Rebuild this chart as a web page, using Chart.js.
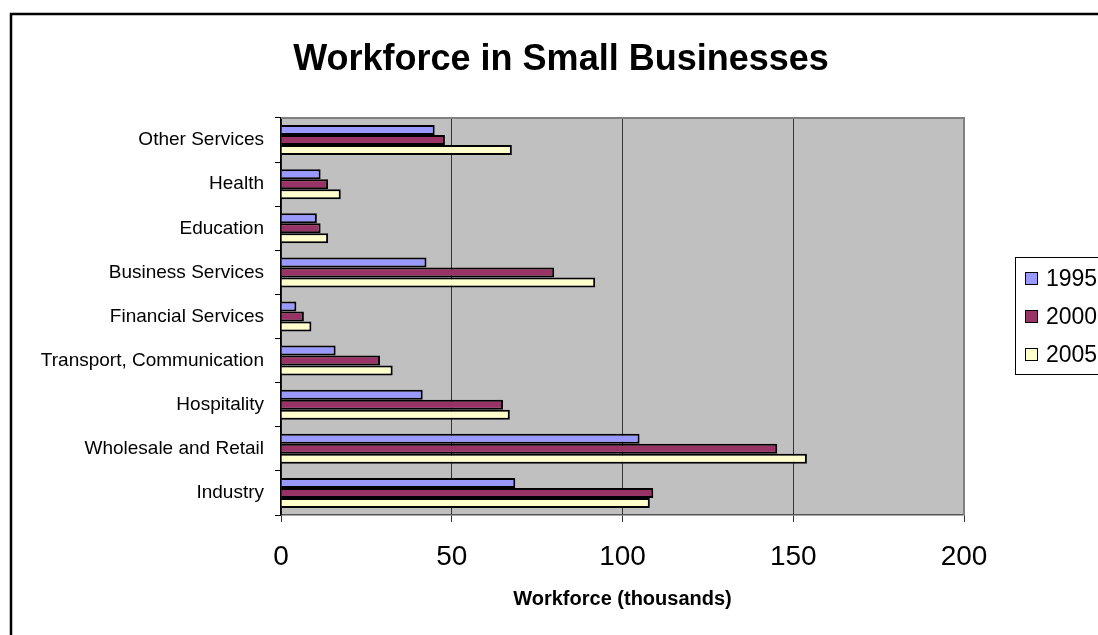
<!DOCTYPE html>
<html lang="en">
<head>
    <meta charset="UTF-8">
    <title>Workforce in Small Businesses</title>
    <script src="https://cdn.jsdelivr.net/npm/chart.js"></script>
    <style>
        html, body { margin: 0; padding: 0; background: #fff; }
        .chart-container { width: 1098px; height: 635px; }
    </style>
</head>
<body>
    <div class="chart-container">
        <canvas id="workforceChart"></canvas>
    </div>
    <script>
        const chartTitle = 'Workforce in Small Businesses';
        const axisTitle = 'Workforce (thousands)';
        const sectors = ['Other Services', 'Health', 'Education', 'Business Services', 'Financial Services',
            'Transport, Communication', 'Hospitality', 'Wholesale and Retail', 'Industry'];
        const years = ['1995', '2000', '2005'];
        const values1995 = [45, 11.6, 10.5, 42.6, 4.5, 16, 41.5, 105, 68.6];
        const values2000 = [48, 13.8, 11.6, 80, 6.7, 29, 65, 145.3, 109];
        const values2005 = [67.6, 17.5, 13.8, 92, 8.9, 32.7, 67, 154, 108];
        const xTicks = [0, 50, 100, 150, 200];
        const colors = ['#9999FF', '#993366', '#FFFFCC'];

        const font = '"Liberation Sans", Arial, sans-serif';

        // plot background, outer frame, title and boxed legend
        const excelLook = {
            id: 'excelLook',
            beforeDraw(chart) {
                const { ctx, chartArea: a } = chart;
                ctx.save();
                ctx.fillStyle = '#C0C0C0';
                ctx.fillRect(a.left, a.top, a.right - a.left, a.bottom - a.top);
                ctx.restore();
            },
            afterDraw(chart) {
                const { ctx, chartArea: a } = chart;
                ctx.save();
                ctx.strokeStyle = '#808080';
                ctx.lineWidth = 2;
                ctx.beginPath();
                ctx.moveTo(a.left, a.top);
                ctx.lineTo(a.right, a.top);
                ctx.lineTo(a.right, a.bottom);
                ctx.stroke();

                ctx.strokeStyle = '#000';
                ctx.lineWidth = 2.5;
                ctx.strokeRect(11, 14, 1200, 700);

                ctx.fillStyle = '#000';
                ctx.font = 'bold 36px ' + font;
                ctx.textAlign = 'center';
                ctx.textBaseline = 'alphabetic';
                ctx.fillText(chartTitle, 561, 70);

                ctx.lineWidth = 1;
                ctx.strokeRect(1015.5, 257.5, 200, 117);
                ctx.font = '23px ' + font;
                ctx.textAlign = 'left';
                ctx.textBaseline = 'middle';
                chart.data.datasets.forEach((ds, i) => {
                    const cy = 279 + i * 38;
                    ctx.fillStyle = ds.backgroundColor;
                    ctx.fillRect(1025.5, cy - 6.5, 12, 12);
                    ctx.strokeRect(1025.5, cy - 6.5, 12, 12);
                    ctx.fillStyle = '#000';
                    ctx.fillText(ds.label, 1046, cy + 1);
                });
                ctx.restore();
            }
        };

        const series = [values1995, values2000, values2005];

        new Chart(document.getElementById('workforceChart'), {
            type: 'bar',
            data: {
                labels: sectors,
                datasets: years.map((y, i) => ({
                    label: y,
                    data: series[i],
                    backgroundColor: colors[i],
                    borderColor: '#000',
                    borderWidth: 2,
                    categoryPercentage: 0.68,
                    barPercentage: 1.0
                }))
            },
            options: {
                indexAxis: 'y',
                responsive: true,
                maintainAspectRatio: false,
                animation: false,
                layout: { padding: { top: 118, right: 134, bottom: 0, left: 0 } },
                plugins: {
                    legend: { display: false },
                    title: { display: false },
                    tooltip: { enabled: false }
                },
                scales: {
                    x: {
                        min: 0,
                        max: 200,
                        afterBuildTicks: s => { s.ticks = xTicks.map(v => ({ value: v })); },
                        afterFit: s => { s.height = 120; },
                        ticks: { color: '#000', padding: 18, font: { family: font, size: 28 } },
                        grid: { color: '#333', lineWidth: 1, tickLength: 7 },
                        border: { color: '#555', width: 1.5 },
                        title: {
                            display: true,
                            text: axisTitle,
                            color: '#000',
                            font: { family: font, size: 20, weight: 'bold' },
                            padding: { top: 0, bottom: 24 }
                        }
                    },
                    y: {
                        afterFit: s => { s.width = 281; },
                        ticks: { color: '#000', padding: 11, font: { family: font, size: 19 } },
                        grid: { drawOnChartArea: false, color: '#000', tickLength: 6, offset: true },
                        border: { color: '#000', width: 1.5 }
                    }
                }
            },
            plugins: [excelLook]
        });
    </script>
</body>
</html>
